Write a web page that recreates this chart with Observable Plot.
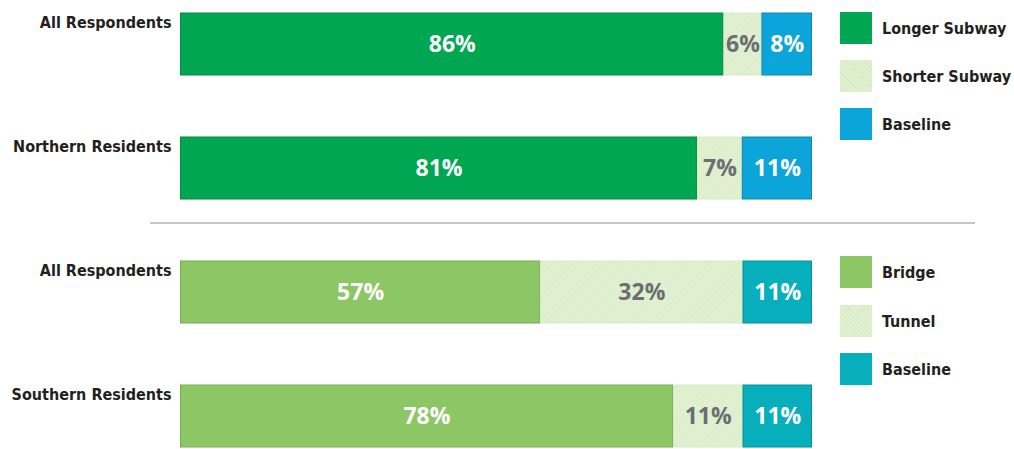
<!DOCTYPE html>
<html>
<head>
<meta charset="utf-8">
<script src="https://cdn.jsdelivr.net/npm/d3@7"></script>
<script src="https://cdn.jsdelivr.net/npm/@observablehq/plot@0.6"></script>
<style>
  body { margin: 0; background: #fff; }
  #wrap { position: relative; width: 1014px; height: 449px; }
  #sep { position: absolute; left: 150px; top: 222px; width: 825px; height: 2px; background: #c8c8c8; }
  .leg { position: absolute; left: 840px; font: bold 16px "Liberation Sans Narrow", "DejaVu Sans Condensed", sans-serif; color: #231f20; }
  .leg .sw { position: absolute; left: 0; top: 0; width: 32px; height: 32px; }
  .leg .lb { position: absolute; left: 42px; top: 7px; white-space: nowrap; }
</style>
</head>
<body>
<div id="wrap"><div id="sep"></div></div>
<script>
// Rows (unique ids) and their displayed labels
const rows = ["r1", "r2", "r3", "r4"];
const rowLabels = ["All Respondents", "Northern Residents", "All Respondents", "Southern Residents"];
// Series per row
const seriesTop = ["Longer Subway", "Shorter Subway", "Baseline"];
const seriesBottom = ["Bridge", "Tunnel", "Baseline"];
const seriesKeysTop = ["Longer Subway", "Shorter Subway", "Baseline (subway)"];
const seriesKeysBottom = ["Bridge", "Tunnel", "Baseline (bridge)"];
// Values (percent)
const valuesR1 = [86, 6, 8];
const valuesR2 = [81, 7, 11];
const valuesR3 = [57, 32, 11];
const valuesR4 = [78, 11, 11];

const colorDomain = [...seriesKeysTop, ...seriesKeysBottom];
const colorRange = ["#00a651", "url(#hatchTop)", "#0ba5d9", "#8cc665", "url(#hatchBottom)", "#07aebb"];
const labelColors = {"Longer Subway": "#fff", "Shorter Subway": "#6d6e71", "Baseline (subway)": "#fff",
  "Bridge": "#fff", "Tunnel": "#6d6e71", "Baseline (bridge)": "#fff"};
const strokeColors = {"Longer Subway": "#078a45", "Shorter Subway": "#d8ebc6", "Baseline (subway)": "#0a86b3",
  "Bridge": "#77ad52", "Tunnel": "#d8ebc6", "Baseline (bridge)": "#068f9a"};

const data = [];
[[valuesR1, seriesKeysTop], [valuesR2, seriesKeysTop], [valuesR3, seriesKeysBottom], [valuesR4, seriesKeysBottom]]
  .forEach(([vals, keys], i) => vals.forEach((v, j) => data.push({row: rows[i], series: keys[j], value: v})));

const labelData = rows.map((r, i) => ({row: r, label: rowLabels[i], x: 0}));

const plot = Plot.plot({
  width: 1014,
  height: 449,
  marginLeft: 180,
  marginRight: 202,
  marginTop: 12,
  marginBottom: 2,
  x: {domain: [0, 1], axis: null},
  y: {domain: rows, paddingInner: 0.5, paddingOuter: 0, axis: null},
  color: {domain: colorDomain, range: colorRange},
  style: {background: "transparent"},
  marks: [
    Plot.barX(data, Plot.stackX({x: "value", y: "row", z: "series", fill: "series", offset: "normalize",
      stroke: d => strokeColors[d.series], strokeWidth: 1, insetLeft: 0.5, insetRight: 0.5})),
    Plot.text(data, Plot.stackX({x: "value", y: "row", z: "series", offset: "normalize",
      text: d => d.value + "%", fill: d => labelColors[d.series],
      fontSize: 23, fontWeight: 700, fontFamily: "'Open Sans', sans-serif"})),
    Plot.text(labelData, {x: "x", y: "row", text: "label", textAnchor: "end", dx: -9, dy: -22,
      fontSize: 16, fontWeight: "bold", fill: "#231f20",
      fontFamily: "'Liberation Sans Narrow', 'DejaVu Sans Condensed', sans-serif"})
  ]
});

// hatch patterns for light segments
const ns = "http://www.w3.org/2000/svg";
const defs = document.createElementNS(ns, "defs");
defs.innerHTML = `
  <pattern id="hatchTop" patternUnits="userSpaceOnUse" width="4" height="4" patternTransform="rotate(45)">
    <rect width="4" height="4" fill="#e0f0d1"/><line x1="0" y1="0" x2="0" y2="4" stroke="#d9ecc7" stroke-width="1.2"/>
  </pattern>
  <pattern id="hatchBottom" patternUnits="userSpaceOnUse" width="4" height="4" patternTransform="rotate(45)">
    <rect width="4" height="4" fill="#e0f0d1"/><line x1="0" y1="0" x2="0" y2="4" stroke="#d9ecc7" stroke-width="1.2"/>
  </pattern>`;
plot.insertBefore(defs, plot.firstChild);

const wrap = document.getElementById("wrap");
wrap.insertBefore(plot, wrap.firstChild);

// Legend
const hatchCss = "repeating-linear-gradient(45deg, #e2f1d3 0 2px, #d3e9be 2px 3px)";
const legendItems = [
  {label: seriesTop[0], fill: colorRange[0], top: 12},
  {label: seriesTop[1], fill: hatchCss, top: 60},
  {label: seriesTop[2], fill: colorRange[2], top: 108},
  {label: seriesBottom[0], fill: colorRange[3], top: 256},
  {label: seriesBottom[1], fill: hatchCss, top: 305},
  {label: seriesBottom[2], fill: colorRange[5], top: 353}
];
legendItems.forEach(it => {
  const d = document.createElement("div");
  d.className = "leg";
  d.style.top = it.top + "px";
  d.innerHTML = `<div class="sw" style="background:${it.fill}"></div><div class="lb">${it.label}</div>`;
  wrap.appendChild(d);
});
</script>
</body>
</html>
